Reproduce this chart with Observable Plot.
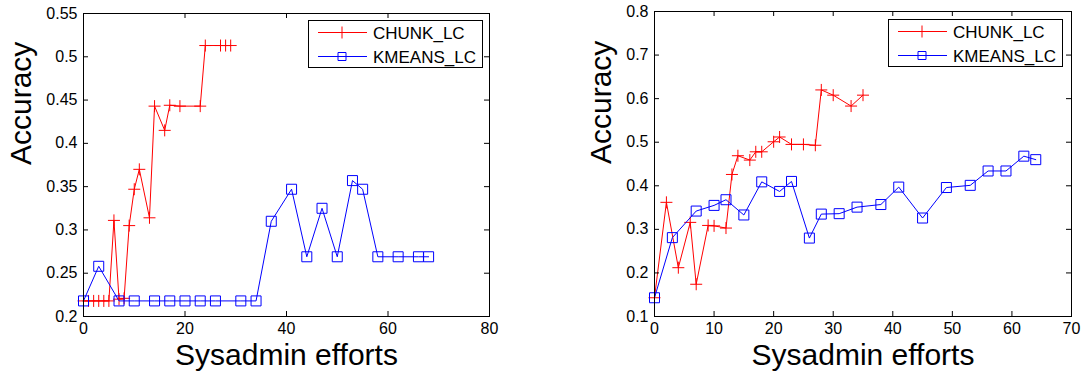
<!DOCTYPE html>
<html><head><meta charset="utf-8">
<script src="https://cdn.jsdelivr.net/npm/d3@7"></script>
<script src="https://cdn.jsdelivr.net/npm/@observablehq/plot@0.6"></script>
<style>
body{margin:0;background:#fff;font-family:"Liberation Sans",Arial,sans-serif;}
#wrap{position:relative;width:1086px;height:376px;display:flex;}
#wrap > svg, #wrap > figure{flex:none;margin:0;}
#legend{position:absolute;left:0;top:0;pointer-events:none;}
</style></head><body><div id="wrap"></div>
<script>
// ---------- data ----------
const seriesNames = ["CHUNK_LC", "KMEANS_LC"];

// left panel
const leftChunkX = [0,1,2,3,4,5,6,7,8,9,10,11,13,14,16,17,19,23,24,27,28,29];
const leftChunkY = [0.218,0.218,0.218,0.218,0.218,0.218,0.311,0.220,0.221,0.305,0.347,0.370,0.314,0.443,0.415,0.444,0.443,0.443,0.513,0.513,0.513,0.513];
const leftKmX = [0,3,7,10,14,17,20,23,26,31,34,37,41,44,47,50,53,55,58,62,66,68];
const leftKmY = [0.218,0.258,0.218,0.218,0.218,0.218,0.218,0.218,0.218,0.218,0.218,0.310,0.347,0.269,0.325,0.269,0.357,0.347,0.269,0.269,0.269,0.269];
const leftXTicks = [0,20,40,60,80];
const leftYTicks = [0.2,0.25,0.3,0.35,0.4,0.45,0.5,0.55];

// right panel
const rightChunkX = [0,2,4,6,7,9,10,12,13,14,16,17,18,20,21,23,25,27,28,30,33,35];
const rightChunkY = [0.143,0.362,0.212,0.316,0.174,0.309,0.308,0.303,0.426,0.469,0.459,0.478,0.478,0.501,0.512,0.495,0.495,0.493,0.620,0.608,0.583,0.608];
const rightKmX = [0,3,7,10,12,15,18,21,23,26,28,31,34,38,41,45,49,53,56,59,62,64];
const rightKmY = [0.143,0.281,0.342,0.355,0.368,0.333,0.409,0.387,0.410,0.280,0.335,0.336,0.351,0.357,0.397,0.326,0.396,0.401,0.434,0.434,0.468,0.460];
const rightXTicks = [0,10,20,30,40,50,60,70];
const rightYTicks = [0.1,0.2,0.3,0.4,0.5,0.6,0.7,0.8];

const xLabel = "Sysadmin efforts";
const yLabel = "Accuracy";

// ---------- drawing ----------
const FONT = "'Liberation Sans', Arial, sans-serif";
const RED = "#ff0000", BLUE = "#0000ff";
const plusSym = {draw(ctx, size){const r=Math.sqrt(size/Math.PI); ctx.moveTo(-r,0); ctx.lineTo(r,0); ctx.moveTo(0,-r); ctx.lineTo(0,r);}};
const squareSym = {draw(ctx, size){const r=Math.sqrt(size/Math.PI); ctx.rect(-r,-r,2*r,2*r);}};

function chart({chunkX, chunkY, kmX, kmY, xTicks, yTicks, marginLeft, marginRight, marginTop, titleDx}) {
  const W = 543, H = 376, mb = 60;
  const ph = H - marginTop - mb;
  const pw = W - marginLeft - marginRight;
  const chunk = chunkX.map((x, i) => ({x, y: chunkY[i]}));
  const km = kmX.map((x, i) => ({x, y: kmY[i]}));
  const fmt = d => String(d);
  return Plot.plot({
    width: W, height: H, marginLeft, marginRight, marginTop, marginBottom: mb,
    style: {fontFamily: FONT, fontSize: "16px", color: "#000", background: "#fff", overflow: "visible"},
    x: {domain: [xTicks[0], xTicks[xTicks.length - 1]]},
    y: {domain: [yTicks[0], yTicks[yTicks.length - 1]]},
    marks: [
      Plot.line(chunk, {x: "x", y: "y", stroke: RED, strokeWidth: 1}),
      Plot.dot(chunk, {x: "x", y: "y", symbol: plusSym, r: 6, stroke: RED, fill: "none", strokeWidth: 1}),
      Plot.line(km, {x: "x", y: "y", stroke: BLUE, strokeWidth: 1}),
      Plot.dot(km, {x: "x", y: "y", symbol: squareSym, r: 5, stroke: BLUE, fill: "none", strokeWidth: 1}),
      Plot.axisX({ticks: xTicks, tickSize: 0, tickPadding: 6, label: null, tickFormat: fmt, fontSize: 16}),
      Plot.axisY({ticks: yTicks, tickSize: 0, tickPadding: 6, label: null, tickFormat: fmt, fontSize: 16}),
      Plot.tickX(xTicks, {x: d => d, insetTop: ph - 5, stroke: "#000"}),
      Plot.tickX(xTicks, {x: d => d, insetBottom: ph - 5, stroke: "#000"}),
      Plot.tickY(yTicks, {y: d => d, insetRight: pw - 5, stroke: "#000"}),
      Plot.tickY(yTicks, {y: d => d, insetLeft: pw - 5, stroke: "#000"}),
      Plot.frame({stroke: "#000", strokeWidth: 1}),
      Plot.text([xLabel], {text: d => d, frameAnchor: "bottom", dy: 39, lineAnchor: "middle", fontSize: 30, fill: "#000"}),
      Plot.text([yLabel], {text: d => d, frameAnchor: "left", dx: titleDx, rotate: -90, lineAnchor: "middle", fontSize: 30, fill: "#000"})
    ]
  });
}

const wrap = document.getElementById("wrap");
wrap.append(chart({chunkX: leftChunkX, chunkY: leftChunkY, kmX: leftKmX, kmY: leftKmY,
  xTicks: leftXTicks, yTicks: leftYTicks, marginLeft: 83, marginRight: 54, marginTop: 13, titleDx: -62}));
wrap.append(chart({chunkX: rightChunkX, chunkY: rightChunkY, kmX: rightKmX, kmY: rightKmY,
  xTicks: rightXTicks, yTicks: rightYTicks, marginLeft: 111, marginRight: 15, marginTop: 11, titleDx: -53}));

// legends
const leg = d3.select(wrap).append("svg").attr("id", "legend").attr("width", 1086).attr("height", 376);
const boxes = [{x: 308, y: 20}, {x: 888, y: 19}];
const styles = [{color: RED, sym: plusSym, r: 6}, {color: BLUE, sym: squareSym, r: 4}];
for (const b of boxes) {
  const g = leg.append("g").attr("transform", `translate(${b.x},${b.y})`);
  g.append("rect").attr("x", 0.5).attr("y", 0.5).attr("width", 174).attr("height", 47)
    .attr("fill", "#fff").attr("stroke", "#000");
  seriesNames.forEach((name, i) => {
    const yy = 12.5 + i * 24;
    g.append("line").attr("x1", 10).attr("x2", 59).attr("y1", yy).attr("y2", yy)
      .attr("stroke", styles[i].color).attr("stroke-width", 1);
    g.append("path").attr("transform", `translate(34,${yy})`)
      .attr("d", d3.symbol(styles[i].sym, styles[i].r * styles[i].r * Math.PI)())
      .attr("fill", "none").attr("stroke", styles[i].color);
    g.append("text").attr("x", 65).attr("y", yy).attr("dy", "0.36em")
      .attr("font-family", FONT).attr("font-size", 17).attr("fill", "#000").text(name);
  });
}
</script></body></html>
